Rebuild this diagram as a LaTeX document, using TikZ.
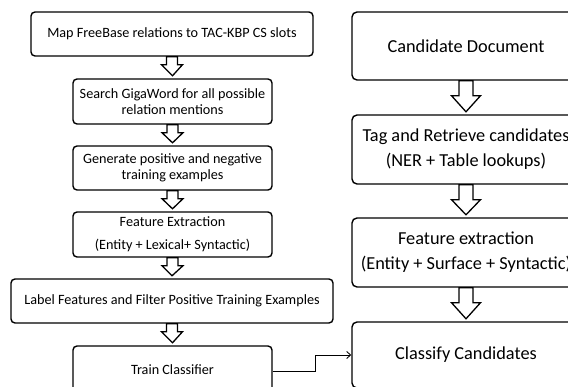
\documentclass[tikz,border=0pt]{standalone}
\usepackage{fontspec}
\setmainfont{Carlito}
\usetikzlibrary{calc,arrows.meta}
\tikzset{
  lbox/.style={draw, line width=1.4pt, rounded corners=4pt, align=center, inner sep=0pt, font=\fontsize{14.2}{15.5}\selectfont},
  rbox/.style={draw, line width=1.4pt, rounded corners=5pt, align=center, inner sep=0pt, font=\fontsize{18.3}{21}\selectfont},
  blk/.style={draw, line width=1.3pt, fill=white, line join=miter},
  conn/.style={draw, line width=0.9pt, -{Straight Barb[length=4pt,width=7pt]}}
}
% #1 from node, #2 to node, #3 half shaft, #4 half head, #5 shaft length
\newcommand\blockarrow[5]{%
  \path[blk] ($(#1.south)+(-#3,0)$) -- ++(0,#5) -- ++(-#4+#3,0) -- ($(#2.north)+(0,-2.5)$)
    -- ($(#1.south)+(#4,#5)$) -- ++(-#4+#3,0) -- ($(#1.south)+(#3,0)$) -- cycle;}
\begin{document}
\begin{tikzpicture}[x=1pt,y=-1pt]
\useasboundingbox (0,0) rectangle (568,387);
\clip (0,0) rectangle (568,387);
% left column
\node[lbox, minimum width=282, minimum height=44] (m1) at (172,34) {Map FreeBase relations to TAC-KBP CS slots};
\node[lbox, minimum width=199, minimum height=45] (m2) at (172.5,101.5) {Search GigaWord for all possible\\relation mentions};
\node[lbox, minimum width=199, minimum height=44] (m3) at (172.5,168) {Generate positive and negative\\training examples};
\node[lbox, minimum width=199, minimum height=45] (m4) at (172.5,234.5) {Feature Extraction\\[7.5pt](Entity + Lexical+ Syntactic)};
\node[lbox, minimum width=322, minimum height=44] (m5) at (172,301) {Label Features and Filter Positive Training Examples};
\node[lbox, minimum width=199, minimum height=50] (m6) at (172.5,371) {\raisebox{2pt}{Train Classifier}};
% right column
\node[rbox, minimum width=228, minimum height=68] (r1) at (466,46) {Candidate Document};
\node[rbox, minimum width=228, minimum height=69] (r2) at (466,149.5) {Tag and Retrieve candidates\\[4pt](NER + Table lookups)};
\node[rbox, minimum width=228, minimum height=69] (r3) at (466,252.5) {Feature extraction\\[4pt](Entity + Surface + Syntactic)};
\node[rbox, minimum width=228, minimum height=66] (r4) at (466,355) {Classify Candidates};
% block arrows
\blockarrow{m1}{m2}{5.5}{10.5}{8}
\blockarrow{m2}{m3}{5.5}{10.5}{8}
\blockarrow{m3}{m4}{5.5}{10.5}{8}
\blockarrow{m4}{m5}{5.5}{10.5}{8}
\blockarrow{m5}{m6}{5.5}{10.5}{8}
\blockarrow{r1}{r2}{7}{14.5}{15}
\blockarrow{r2}{r3}{7}{14.5}{15}
\blockarrow{r3}{r4}{7}{14.5}{15}
% connector
\coordinate (bend) at (315,0);
\draw[conn] (m6.east) -- (m6.east -| bend) |- (r4.west);
\end{tikzpicture}
\end{document}
